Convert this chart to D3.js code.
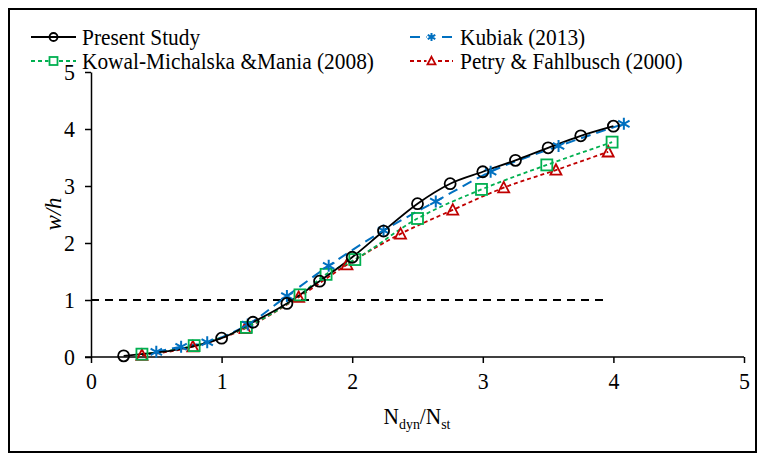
<!DOCTYPE html>
<html><head><meta charset="utf-8">
<script src="https://cdn.jsdelivr.net/npm/d3@7"></script>
<style>body{margin:0;background:#fff}svg{display:block}</style>
</head><body>
<svg id="c" width="759" height="457" style="font-family:'Liberation Serif','Times New Roman',Times,'DejaVu Serif',serif"></svg>
<script>
const presentX = [0.25,1.0,1.24,1.5,1.75,2.0,2.24,2.5,2.75,3.0,3.25,3.5,3.75,4.0];
const presentY = [0.02,0.33,0.61,0.94,1.33,1.75,2.21,2.69,3.04,3.25,3.45,3.67,3.88,4.05];
const kubiakX = [0.5,0.69,0.89,1.2,1.5,1.82,2.24,2.64,3.06,3.58,4.08];
const kubiakY = [0.09,0.18,0.26,0.57,1.07,1.6,2.22,2.73,3.25,3.7,4.09];
const kowalX = [0.39,0.79,1.19,1.6,1.8,2.02,2.5,2.99,3.49,3.99];
const kowalY = [0.05,0.2,0.52,1.09,1.45,1.71,2.43,2.94,3.37,3.77];
const petryX = [0.39,0.78,1.18,1.59,1.96,2.37,2.77,3.16,3.56,3.96];
const petryY = [0.03,0.18,0.5,1.05,1.62,2.16,2.58,2.97,3.28,3.6];
const refX = [0, 3.93];
const refY = [1, 1];
const xTicks = [0,1,2,3,4,5];
const yTicks = [0,1,2,3,4,5];
const legendLabels = ["Present Study","Kubiak (2013)","Kowal-Michalska &Mania (2008)","Petry & Fahlbusch (2000)"];

const FONT = "'Liberation Serif','Times New Roman',Times,'DejaVu Serif',serif";
const SX = 0.93;
const svg = d3.select("#c");
const x = d3.scaleLinear().domain([0,5]).range([91,744]);
const y = d3.scaleLinear().domain([0,5]).range([357,72]);

svg.append("rect").attr("x",9).attr("y",9).attr("width",747).attr("height",443)
  .attr("fill","none").attr("stroke","#000").attr("stroke-width",2);

const xa = svg.append("g").attr("transform","translate(0,357)")
  .call(d3.axisBottom(x).tickValues(xTicks).tickSize(6).tickSizeOuter(0).tickPadding(9).tickFormat(d3.format("d")));
const ya = svg.append("g").attr("transform","translate(91,0)")
  .call(d3.axisLeft(y).tickValues(yTicks).tickSize(6).tickSizeOuter(0).tickPadding(10).tickFormat(d3.format("d")));
[xa,ya].forEach(a=>{
  a.attr("font-family",null).attr("font-size",null);
  a.selectAll("path").attr("stroke","#000").attr("stroke-width",1.5);
  a.selectAll("line").attr("stroke","#000").attr("stroke-width",1.5);
  a.selectAll("text").style("font-size","23.5px").style("font-family",FONT).attr("fill","#000")
    .attr("transform",`scale(${SX},1)`);
});
ya.selectAll("text").attr("x",-16/SX);
xa.select("path").attr("d","M85,0H744");

svg.append("path").attr("d", d3.line().x((d,i)=>x(refX[i])).y((d,i)=>y(refY[i]))(refX))
  .attr("fill","none").attr("stroke","#000").attr("stroke-width",1.8).attr("stroke-dasharray","8,6");

const series = [
  {xs:presentX, ys:presentY, color:"#000", dash:null, w:1.8, marker:"circle"},
  {xs:kubiakX, ys:kubiakY, color:"#0070C0", dash:"10,6", w:2, marker:"star"},
  {xs:kowalX, ys:kowalY, color:"#00B050", dash:"4,3", w:1.8, marker:"square"},
  {xs:petryX, ys:petryY, color:"#C00000", dash:"4,3", w:1.8, marker:"triangle"}
];

function drawMarker(g, type, cx, cy, color, s){
  if(type==="circle"){
    g.append("circle").attr("cx",cx).attr("cy",cy).attr("r",s).attr("fill","none").attr("stroke",color).attr("stroke-width",1.8);
  } else if(type==="square"){
    g.append("rect").attr("x",cx-s).attr("y",cy-s).attr("width",2*s).attr("height",2*s).attr("fill","none").attr("stroke",color).attr("stroke-width",1.8);
  } else if(type==="triangle"){
    g.append("path").attr("d",`M${cx},${cy-s*1.05}L${cx+s},${cy+s*0.85}L${cx-s},${cy+s*0.85}Z`).attr("fill","none").attr("stroke",color).attr("stroke-width",1.8);
  } else {
    const d = s*0.95;
    g.append("path").attr("d",`M${cx},${cy-s}V${cy+s}M${cx-d},${cy-d*0.55}L${cx+d},${cy+d*0.55}M${cx-d},${cy+d*0.55}L${cx+d},${cy-d*0.55}`)
      .attr("fill","none").attr("stroke",color).attr("stroke-width",2);
  }
}

series.slice().reverse().forEach(s=>{
  const pts = s.xs.map((v,i)=>[x(v), y(s.ys[i])]);
  const line = d3.line().curve(d3.curveMonotoneX);
  svg.append("path").attr("d", line(pts)).attr("fill","none").attr("stroke",s.color)
    .attr("stroke-width",s.w).attr("stroke-dasharray",s.dash);
});
series.slice().reverse().forEach(s=>{
  const g = svg.append("g");
  s.xs.forEach((v,i)=>drawMarker(g, s.marker, x(v), y(s.ys[i]), s.color, s.marker==="star"?6:5.5));
});

const legPos = [[31,76,37,82],[410,453,37,460],[31,76,61,82],[410,453,61,460]];
series.forEach((s,k)=>{
  const [xs0,x1,yy,tx] = legPos[k];
  const g = svg.append("g");
  g.append("line").attr("x1",xs0).attr("x2",x1).attr("y1",yy).attr("y2",yy)
    .attr("stroke",s.color).attr("stroke-width",s.w).attr("stroke-dasharray",s.dash);
  const cx = (xs0+x1)/2;
  if(s.marker!=="circle") g.append("rect").attr("x",cx-5).attr("y",yy-5).attr("width",10).attr("height",10).attr("fill","#fff");
  drawMarker(g, s.marker, cx, yy, s.color, 4);
  svg.append("text").attr("transform",`translate(${tx},${yy+8}) scale(${SX},1)`)
    .style("font-size","23px").style("font-family",FONT).text(legendLabels[k]);
});

const xt = svg.append("text").attr("transform",`translate(417,424) scale(${SX},1)`).attr("text-anchor","middle")
  .style("font-size","23px").style("font-family",FONT);
xt.append("tspan").text("N");
xt.append("tspan").style("font-size","15px").attr("dy",5).text("dyn");
xt.append("tspan").attr("dy",-5).text("/N");
xt.append("tspan").style("font-size","15px").attr("dy",5).text("st");

svg.append("text").attr("transform","translate(61,214) rotate(-90)").attr("text-anchor","middle")
  .style("font-size","23px").style("font-style","italic").style("font-family",FONT).text("w/h");
</script>
</body></html>
